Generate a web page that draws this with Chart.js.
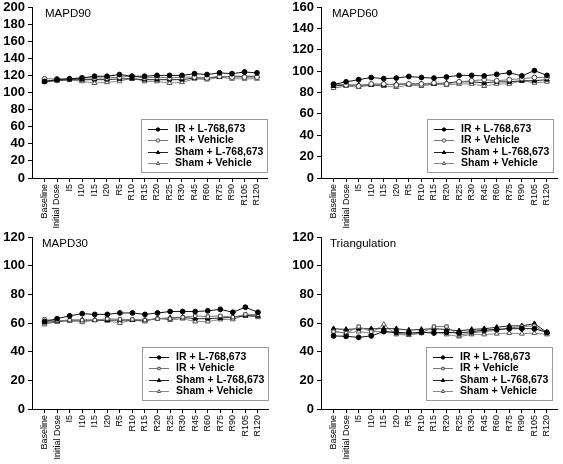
<!DOCTYPE html>
<html>
<head>
<meta charset="utf-8">
<script src="https://cdn.jsdelivr.net/npm/chart.js@4/dist/chart.umd.min.js"></script>
<style>
  html, body { margin: 0; padding: 0; background: #fff; }
  #wrap { position: relative; width: 563px; height: 464px; }
  canvas { position: absolute; }
</style>
</head>
<body>
<div id="wrap">
  <canvas id="c1" width="282" height="232" style="left:0;top:0"></canvas>
  <canvas id="c2" width="281" height="232" style="left:282px;top:0"></canvas>
  <canvas id="c3" width="282" height="232" style="left:0;top:232px"></canvas>
  <canvas id="c4" width="281" height="232" style="left:282px;top:232px"></canvas>
</div>
<script>
const categories = ['Baseline','Initial Dose','I5','I10','I15','I20','R5','R10','R15','R20','R25','R30','R45','R60','R75','R90','R105','R120'];
const seriesNames = ['IR + L-768,673','IR + Vehicle','Sham + L-768,673','Sham + Vehicle'];

const mapd90IrL     = [113,115,116,117,119,119,121,119,119,120,120,120,122,121,123,122,124,123];
const mapd90IrVeh   = [116,116,116,117,117,117,118,119,117,118,117,118,118,117,119,118,118,118];
const mapd90ShamL   = [113,114,115,115,115,115,116,116,115,115,115,115,117,117,118,119,119,119];
const mapd90ShamVeh = [112,114,115,113,111,112,113,117,113,113,111,112,116,115,118,116,116,116];

const mapd60IrL     = [87.5,90,92,94,93,93.5,95,94,93.5,94.5,96,96,95.5,97,98.5,95.5,100.5,96];
const mapd60IrVeh   = [88,87,86,88,88,87,88,88,89,88,90,91,92,91,92,93,94,94];
const mapd60ShamL   = [86,87,87,87,87,88,88,88,88,89,90,90,89,90,90,91,91,92];
const mapd60ShamVeh = [84,86,85,87,86,85,87,86,88,87,88,88,86,88,88,91,89,90];

const mapd30IrL     = [61,63,65,66.5,66,66,67,67,66,67,68,68,68,68.5,69.5,67.5,71,67.5];
const mapd30IrVeh   = [62.5,61.5,62,62,62,63,62.5,62.5,62,63,63,64,65,64.5,65,64,66,66];
const mapd30ShamL   = [60.5,61,62,62,62,62,62,62,62,63,63.5,64,63,63,63.5,64,65,65];
const mapd30ShamVeh = [59,61,61.5,60.5,62,61.5,60,62,61,63.5,62,63,61,61,62.5,62.5,65.5,64];

const triIrL        = [51,50.7,50,51,54,53.5,53,53.5,53,53.5,53,54,55,55.5,56,56,56,53.5];
const triIrVeh      = [54,53,57.5,54,54,53,52,53,57.5,57.5,51.5,53,54,55,56.5,57.5,58,53];
const triShamL      = [56,55.5,56,56,56,56,55,55.5,56,55.5,54.5,55.5,56,57,58,58,59.5,53.5];
const triShamVeh    = [54,53,54,53,59,52,51.5,53,54,52,50.5,52,52,52.5,53,52.5,53,52];

const FONT = 'Arial, "Liberation Sans", sans-serif';

const legendAndTitle = {
  id: 'legendAndTitle',
  afterDatasetsDraw(chart, args, opts) {
    const ctx = chart.ctx;
    const a = chart.chartArea;
    ctx.save();
    ctx.fillStyle = '#000';
    ctx.font = '11.5px ' + FONT;
    ctx.textBaseline = 'top';
    ctx.textAlign = 'left';
    ctx.fillText(opts.title, a.left + opts.titleDx, a.top + 1);
    const w = 126, h = 53;
    const x0 = a.right + opts.boxDx - w;
    const y0 = a.bottom - opts.boxDy - h;
    ctx.fillStyle = '#fff';
    ctx.fillRect(x0, y0, w, h);
    ctx.strokeStyle = '#999';
    ctx.lineWidth = 1;
    ctx.strokeRect(x0 + 0.5, y0 + 0.5, w, h);
    ctx.font = 'bold 10.5px ' + FONT;
    ctx.textBaseline = 'middle';
    chart.data.datasets.forEach((ds, i) => {
      const y = Math.round(y0 + 9.5 + i * 11.5) + 0.5;
      ctx.strokeStyle = ds.borderColor;
      ctx.lineWidth = 1;
      ctx.beginPath();
      ctx.moveTo(x0 + 7, y);
      ctx.lineTo(x0 + 27, y);
      ctx.stroke();
      ctx.fillStyle = ds.pointBackgroundColor;
      ctx.strokeStyle = ds.pointBorderColor;
      Chart.helpers.drawPoint(ctx, {pointStyle: ds.pointStyle, radius: ds.pointRadius * 0.7, rotation: 0, borderWidth: 1}, x0 + 17, y);
      ctx.fillStyle = '#000';
      ctx.fillText(ds.label, x0 + 34, y);
    });
    ctx.restore();
  }
};

function makeDatasets(arrs, vehStyle) {
  const styles = [
    {line: '#111', bg: '#000', bd: '#000', ps: 'circle', r: 2.4},
    {line: '#777', bg: '#fff', bd: '#444', ps: vehStyle, r: 2.4},
    {line: '#222', bg: '#000', bd: '#000', ps: 'triangle', r: 2.8},
    {line: '#888', bg: '#fff', bd: '#555', ps: 'triangle', r: 2.8}
  ];
  return arrs.map((vals, k) => ({
    label: seriesNames[k],
    data: vals.map((v, i) => ({x: i, y: v})),
    borderColor: styles[k].line,
    borderWidth: 1,
    pointBackgroundColor: styles[k].bg,
    pointBorderColor: styles[k].bd,
    pointBorderWidth: 1,
    pointStyle: styles[k].ps,
    pointRadius: styles[k].r,
    tension: 0,
    fill: false
  }));
}

function makeChart(id, arrs, cfg) {
  new Chart(document.getElementById(id), {
    type: 'line',
    data: { datasets: makeDatasets(arrs, cfg.vehStyle) },
    plugins: [legendAndTitle],
    options: {
      responsive: false,
      animation: false,
      devicePixelRatio: 1,
      layout: { padding: { top: cfg.padTop, right: cfg.padRight, left: 0, bottom: 0 } },
      plugins: {
        legend: { display: false },
        tooltip: { enabled: false },
        legendAndTitle: { title: cfg.title, titleDx: cfg.titleDx, boxDx: cfg.boxDx, boxDy: cfg.boxDy }
      },
      scales: {
        x: {
          type: 'linear',
          min: -1,
          max: 17.8,
          afterBuildTicks: (s) => { s.ticks = categories.map((_, i) => ({value: i})); },
          afterFit: (s) => { s.height = cfg.xH; s.paddingLeft = 0; s.paddingRight = 0; },
          ticks: {
            autoSkip: false,
            maxRotation: 90,
            minRotation: 90,
            padding: 2,
            color: '#000',
            font: { family: FONT, size: 9 },
            callback: (v) => categories[v]
          },
          grid: { display: true, drawOnChartArea: false, tickLength: 4, color: '#000' },
          border: { color: '#000', width: 1 }
        },
        y: {
          min: 0,
          max: cfg.yMax,
          afterBuildTicks: (s) => {
            const t = [];
            for (let v = 0; v <= cfg.yMax; v += 20) t.push({value: v});
            s.ticks = t;
          },
          afterFit: (s) => { s.width = cfg.yW; s.paddingTop = 0; s.paddingBottom = 0; },
          ticks: {
            autoSkip: false,
            padding: 3,
            color: '#000',
            font: { family: FONT, size: 13, weight: 'bold' }
          },
          grid: { display: true, drawOnChartArea: false, tickLength: 4, color: '#000' },
          border: { color: '#000', width: 1 }
        }
      }
    }
  });
}

makeChart('c1', [mapd90IrL, mapd90IrVeh, mapd90ShamL, mapd90ShamVeh],
  {title: 'MAPD90', titleDx: 13, yMax: 200, yW: 32, padTop: 7, padRight: 15, xH: 54, boxDx: 0, boxDy: 6, vehStyle: 'circle'});
makeChart('c2', [mapd60IrL, mapd60IrVeh, mapd60ShamL, mapd60ShamVeh],
  {title: 'MAPD60', titleDx: 11, yMax: 160, yW: 39, padTop: 7, padRight: 6, xH: 54, boxDx: -4, boxDy: 6, vehStyle: 'circle'});
makeChart('c3', [mapd30IrL, mapd30IrVeh, mapd30ShamL, mapd30ShamVeh],
  {title: 'MAPD30', titleDx: 10, yMax: 120, yW: 32, padTop: 5, padRight: 14, xH: 55, boxDx: 0, boxDy: 9, vehStyle: 'rect'});
makeChart('c4', [triIrL, triIrVeh, triShamL, triShamVeh],
  {title: 'Triangulation', titleDx: 9, yMax: 120, yW: 39, padTop: 5, padRight: 6, xH: 55, boxDx: -5, boxDy: 9, vehStyle: 'rect'});
</script>
</body>
</html>
